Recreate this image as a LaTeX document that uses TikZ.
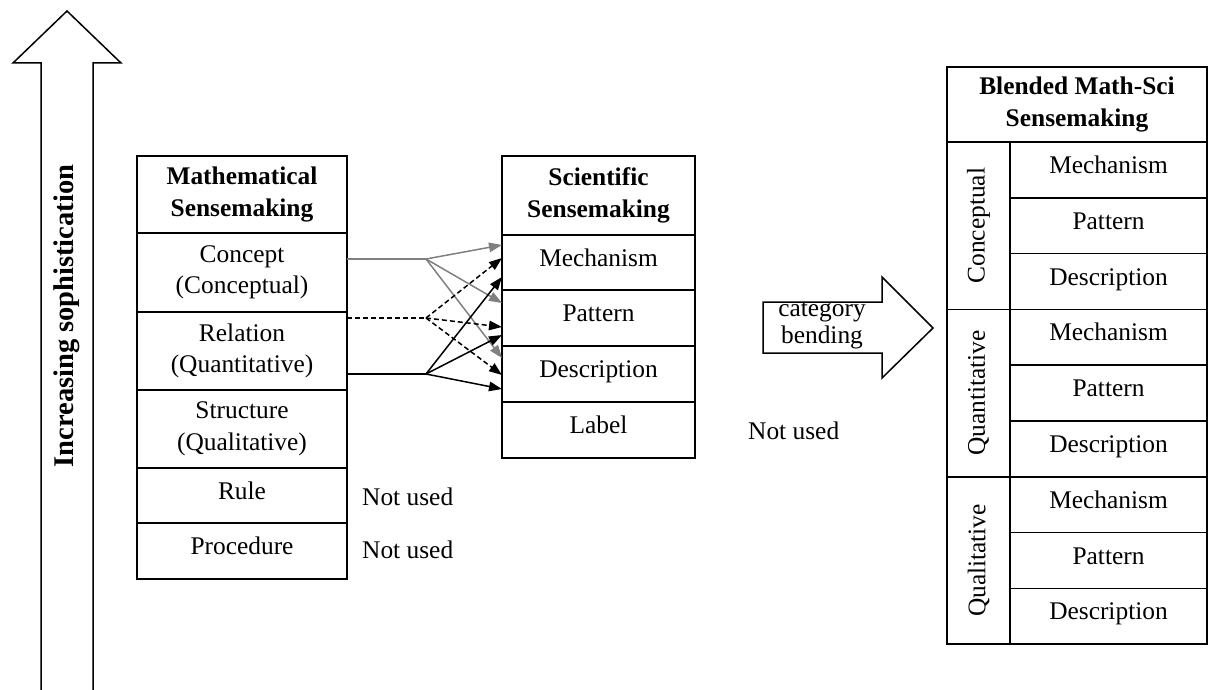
\documentclass[tikz,border=0pt]{standalone}
\usepackage{fontspec}
\setmainfont{Liberation Serif}
\usetikzlibrary{arrows.meta}
\newcommand{\tabfont}{\fontsize{25.4}{31.5}\selectfont}
\tikzset{
  cell/.style={draw, line width=1.6pt, inner sep=0pt, outer sep=0pt, align=center},
  upcell/.style={cell, text height=18pt, text depth=11pt},
  bold/.style={font=\tabfont\bfseries},
  link/.style={line width=1.5pt, -{Triangle[length=13pt,width=9.5pt]}},
  notused/.style={anchor=west, inner sep=0pt},
  outline/.style={line width=1.5pt, line join=miter},
}
\begin{document}
\begin{tikzpicture}[x=1pt, y=-1pt, font=\tabfont]
  \useasboundingbox (0,0) rectangle (1212,690);

  % big arrow on the left
  \draw[outline] (41,690) -- (41,63) -- (13,63) -- (67,11) -- (121,63) -- (93,63) -- (93,690);
  \node[rotate=90, font=\fontsize{28.5}{32}\selectfont\bfseries] (soph) at (67,316) {Increasing sophistication};

  % mathematical sensemaking
  \node[cell, bold, minimum width=210pt, minimum height=77pt] (mhead) at (242,194.5) {Mathematical\\Sensemaking};
  \node[cell, minimum width=210pt, minimum height=79pt] (mconc) at (242,272.5) {Concept\\(Conceptual)};
  \node[cell, minimum width=210pt, minimum height=78pt] (mrel) at (242,351) {Relation\\(Quantitative)};
  \node[cell, minimum width=210pt, minimum height=78pt] (mstr) at (242,429) {Structure\\(Qualitative)};
  \node[upcell, minimum width=210pt, minimum height=55pt] (mrule) at (242,495.5) {Rule};
  \node[upcell, minimum width=210pt, minimum height=56pt] (mproc) at (242,551) {Procedure};
  \node[notused] (nurule) at (362,497) {Not used};
  \node[notused] (nuproc) at (362,550) {Not used};

  % scientific sensemaking
  \node[cell, bold, minimum width=193pt, minimum height=79pt] (shead) at (598.5,195.5) {Scientific\\Sensemaking};
  \node[upcell, minimum width=193pt, minimum height=55pt] (smech) at (598.5,262.5) {Mechanism};
  \node[upcell, minimum width=193pt, minimum height=56pt] (spat) at (598.5,318) {Pattern};
  \node[upcell, minimum width=193pt, minimum height=56pt] (sdesc) at (598.5,374) {Description};
  \node[upcell, minimum width=193pt, minimum height=56pt] (slab) at (598.5,430) {Label};
  \node[notused] (nulab) at (748,431) {Not used};

  % links between the two
  \coordinate (gfork) at (426,259);
  \coordinate (dfork) at (426,318);
  \coordinate (bfork) at (426,374);
  \draw[line width=1.5pt, gray] (gfork -| mconc.east) -- (gfork);
  \draw[link, gray] (gfork) -- ([yshift=-10pt]smech.north west);
  \draw[link, gray] (gfork) -- ([yshift=-13pt]spat.north west);
  \draw[link, gray] (gfork) -- ([yshift=-12pt]sdesc.north west);
  \draw[line width=1.5pt, dash pattern=on 5pt off 3pt] (dfork -| mrel.east) -- (dfork);
  \draw[link, dash pattern=on 5pt off 3pt] (dfork) -- ([yshift=-23pt]smech.north west);
  \draw[link, dash pattern=on 5pt off 3pt] (dfork) -- ([yshift=-37pt]spat.north west);
  \draw[link, dash pattern=on 5pt off 3pt] (dfork) -- ([yshift=-29pt]sdesc.north west);
  \draw[line width=1.5pt] (bfork -| mrel.east) -- (bfork);
  \draw[link] (bfork) -- ([yshift=-42pt]smech.north west);
  \draw[link] (bfork) -- ([yshift=-45pt]spat.north west);
  \draw[link] (bfork) -- ([yshift=-43pt]sdesc.north west);

  % category bending arrow
  \draw[outline] (763,302) -- (882,302) -- (882,277) -- (933,328) -- (882,378) -- (882,353) -- (763,353) -- cycle;
  \node[align=center, inner sep=0pt, font=\fontsize{25.4}{27}\selectfont] (bend) at (822,326) {category\\bending};

  % blended math-sci sensemaking
  \node[cell, bold, minimum width=260pt, minimum height=75pt] (bhead) at (1077,104.5) {Blended Math-Sci\\Sensemaking};
  \node[cell, rotate=90, minimum width=167.4pt, minimum height=63pt] (bconc) at (978.5,225.7) {Conceptual};
  \node[cell, rotate=90, minimum width=167.4pt, minimum height=63pt] (bquan) at (978.5,393.1) {Quantitative};
  \node[cell, rotate=90, minimum width=167.4pt, minimum height=63pt] (bqual) at (978.5,560.5) {Qualitative};
  \node[upcell, minimum width=197pt, minimum height=55.8pt] (cmech) at (1108.5,169.9) {Mechanism};
  \node[upcell, minimum width=197pt, minimum height=55.8pt] (cpat) at (1108.5,225.7) {Pattern};
  \node[upcell, minimum width=197pt, minimum height=55.8pt] (cdesc) at (1108.5,281.5) {Description};
  \node[upcell, minimum width=197pt, minimum height=55.8pt] (qmech) at (1108.5,337.3) {Mechanism};
  \node[upcell, minimum width=197pt, minimum height=55.8pt] (qpat) at (1108.5,393.1) {Pattern};
  \node[upcell, minimum width=197pt, minimum height=55.8pt] (qdesc) at (1108.5,448.9) {Description};
  \node[upcell, minimum width=197pt, minimum height=55.8pt] (lmech) at (1108.5,504.7) {Mechanism};
  \node[upcell, minimum width=197pt, minimum height=55.8pt] (lpat) at (1108.5,560.5) {Pattern};
  \node[upcell, minimum width=197pt, minimum height=55.8pt] (ldesc) at (1108.5,616.3) {Description};
\end{tikzpicture}
\end{document}
